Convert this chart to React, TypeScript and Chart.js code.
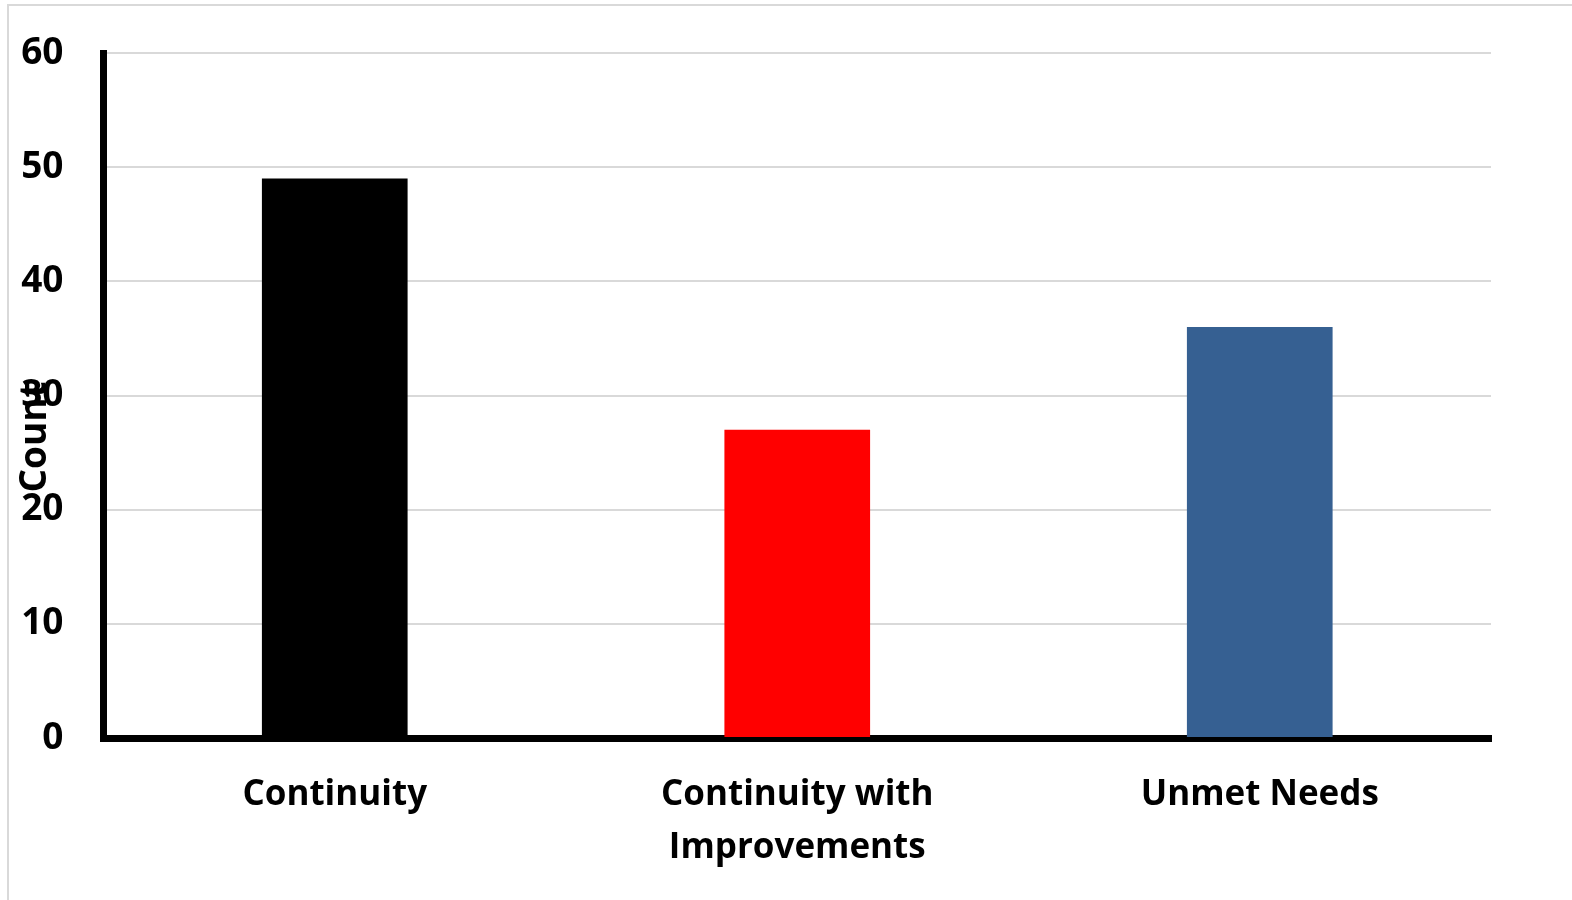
import React, { useEffect, useRef } from "react";
import { Chart, registerables } from "chart.js";

Chart.register(...registerables);

const categories: (string | string[])[] = [
  "Continuity",
  ["Continuity with", "Improvements"],
  "Unmet Needs",
];
const counts: number[] = [49, 27, 36];
const barColors: string[] = ["#000000", "#ff0000", "#366092"];
const yTitle = "Count";
const yMin = 0;
const yMax = 60;
const yStep = 10;

const FONT = "'Open Sans', sans-serif";

const yTitlePlugin = {
  id: "yTitlePlugin",
  afterDraw(chart: any) {
    const ctx = chart.ctx;
    ctx.save();
    ctx.font = `bold 37px ${FONT}`;
    ctx.fillStyle = "#000";
    ctx.textAlign = "center";
    ctx.textBaseline = "middle";
    ctx.translate(35, 437);
    ctx.rotate(-Math.PI / 2);
    ctx.fillText(yTitle, 0, 0);
    ctx.restore();
  },
};

export default function App() {
  const ref = useRef<HTMLCanvasElement | null>(null);

  useEffect(() => {
    if (!ref.current) return;
    const chart = new Chart(ref.current, {
      type: "bar",
      data: {
        labels: categories as any,
        datasets: [
          {
            data: counts,
            backgroundColor: barColors,
            borderWidth: 0,
            barPercentage: 0.315,
            categoryPercentage: 1,
          },
        ],
      },
      options: {
        responsive: false,
        animation: false,
        layout: { padding: { left: 0, right: 81, top: 53, bottom: 0 } },
        plugins: {
          legend: { display: false },
          tooltip: { enabled: false },
          title: { display: false },
        },
        scales: {
          x: {
            z: 1,
            offset: true,
            grid: { color: "rgba(0,0,0,0)", drawTicks: false, tickLength: 0 },
            border: { display: true, color: "#000", width: 7 },
            ticks: {
              color: "#000",
              font: { family: FONT, size: 35, weight: "bold", lineHeight: 1.5 },
              padding: 31,
              maxRotation: 0,
              autoSkip: false,
            },
            afterFit(scale: any) {
              scale.height = 162;
            },
          },
          y: {
            min: yMin,
            max: yMax,
            grid: { color: "#d9d9d9", lineWidth: 2, drawTicks: false, tickLength: 0 },
            border: { display: true, color: "#000", width: 7 },
            ticks: {
              stepSize: yStep,
              color: "#000",
              font: { family: FONT, size: 37, weight: "bold" },
              padding: 40,
            },
            afterFit(scale: any) {
              scale.width = 103.5;
              scale.paddingTop = 20;
              scale.paddingBottom = 20;
            },
          },
        },
      },
      plugins: [yTitlePlugin],
    });
    return () => chart.destroy();
  }, []);

  return (
    <div style={{ position: "fixed", left: 0, top: 0, width: 1572, height: 900, overflow: "hidden", background: "#fff" }}>
      <div
        style={{
          position: "absolute",
          left: 7,
          top: 4,
          width: 1600,
          height: 1000,
          border: "2px solid #d9d9d9",
          boxSizing: "border-box",
        }}
      />
      <canvas ref={ref} width={1572} height={900} style={{ position: "absolute", left: 0, top: 0 }} />
    </div>
  );
}
